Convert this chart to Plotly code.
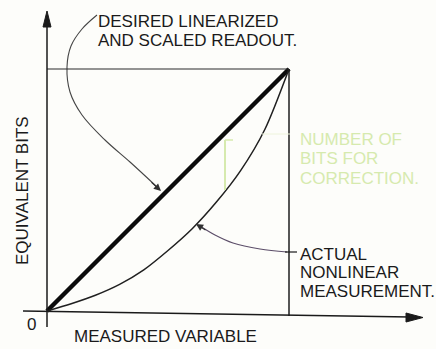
import plotly.graph_objects as go

# Measured variable, normalised to full scale
measured = [0.0, 0.1, 0.2, 0.3, 0.4, 0.5, 0.6, 0.7, 0.8, 0.9, 1.0]
# Desired linearised and scaled readout (equivalent bits, normalised)
desired = [0.0, 0.1, 0.2, 0.3, 0.4, 0.5, 0.6, 0.7, 0.8, 0.9, 1.0]
# Actual nonlinear measurement (equivalent bits, normalised)
actual = [0.0, 0.03, 0.065, 0.11, 0.17, 0.25, 0.34, 0.45, 0.58, 0.75, 1.0]

full_scale = 1.0
x_title = "MEASURED VARIABLE"
y_title = "EQUIVALENT BITS"
origin_label = "0"
desired_label = ["DESIRED LINEARIZED", "AND SCALED READOUT."]
actual_label = ["ACTUAL", "NONLINEAR", "MEASUREMENT."]
correction_label = ["NUMBER OF", "BITS FOR", "CORRECTION."]

W, H = 436, 349
X0, Y0, S = 47, 311, 242  # page position of the origin and pixels per unit


def px(x):
    return (x - X0) / S


def py(y):
    return (Y0 - y) / S


INK = "#1a1a1a"
GREEN = "#d6eaae"
FONT = dict(family="Liberation Sans, Arial, sans-serif", size=17, color=INK)

fig = go.Figure()

# desired straight-line readout
fig.add_trace(go.Scatter(x=measured, y=desired, mode="lines",
                         line=dict(color="#0c0c0c", width=4.5),
                         hoverinfo="skip", showlegend=False))
# actual nonlinear curve
fig.add_trace(go.Scatter(x=measured, y=actual, mode="lines",
                         line=dict(color="#202020", width=1.5, shape="spline", smoothing=0.8),
                         hoverinfo="skip", showlegend=False))


def leader(points, color, width=1.1):
    fig.add_trace(go.Scatter(x=[px(a) for a, _ in points], y=[py(b) for _, b in points],
                             mode="lines", line=dict(color=color, width=width, shape="spline", smoothing=1.0),
                             hoverinfo="skip", showlegend=False))


# leader to the desired line
leader([(97, 15), (82, 29), (71, 46), (67, 67), (70, 92), (82, 115), (105, 140), (130, 162), (156, 186)], "#454545")
# leader to the actual curve
leader([(200, 226), (215, 235), (233, 243), (260, 249), (287, 252)], "#5b4d68")

shapes = []
# full-scale frame
shapes.append(dict(type="line", x0=0, y0=full_scale, x1=full_scale, y1=full_scale,
                   line=dict(color="#2a2a2a", width=1.2)))
shapes.append(dict(type="line", x0=full_scale, y0=full_scale, x1=full_scale, y1=py(316),
                   line=dict(color="#1e1e1e", width=1.5)))
# axes
shapes.append(dict(type="line", x0=0, y0=py(327), x1=0, y1=py(22),
                   line=dict(color=INK, width=1.5)))
shapes.append(dict(type="line", x0=px(23), y0=py(311), x1=px(410), y1=py(317),
                   line=dict(color=INK, width=1.5)))
# arrow heads on the axes
shapes.append(dict(type="path", path=f"M {px(47)},{py(11)} L {px(43)},{py(27)} L {px(51)},{py(27)} Z",
                   fillcolor=INK, line=dict(color=INK, width=1)))
shapes.append(dict(type="path", path=f"M {px(423)},{py(317.5)} L {px(406)},{py(313)} L {px(406)},{py(322)} Z",
                   fillcolor=INK, line=dict(color=INK, width=1)))
# tick where the actual-curve leader meets its label
shapes.append(dict(type="line", x0=px(285), y0=py(252), x1=px(297), y1=py(252),
                   line=dict(color=INK, width=1.2)))
# correction bracket between the two curves
shapes.append(dict(type="line", x0=px(225), y0=py(140), x1=px(225), y1=py(190),
                   line=dict(color=GREEN, width=2)))
shapes.append(dict(type="line", x0=px(225), y0=py(140), x1=px(233), y1=py(140),
                   line=dict(color=GREEN, width=1.5)))
shapes.append(dict(type="line", x0=px(262), y0=py(134), x1=px(290), y1=py(134),
                   line=dict(color="#eef4dc", width=1)))

annotations = []


def text(s, x, y, anchor="left", color=INK, angle=0):
    annotations.append(dict(text=s, x=px(x), y=py(y), xref="x", yref="y", showarrow=False,
                            xanchor=anchor, yanchor="middle", textangle=angle,
                            font=dict(FONT, color=color)))


text(desired_label[0], 96, 21)
text(desired_label[1], 96, 40)
for i, s in enumerate(actual_label):
    text(s, 298, 254 + 18.5 * i)
for i, s in enumerate(correction_label):
    text(s, 298, 139 + 19.5 * i, color=GREEN)
text(x_title, 72, 336)
text(origin_label, 31, 324, anchor="center")
text(y_title, 22, 191, anchor="center", angle=-90)

# arrow heads on the leaders
annotations.append(dict(x=px(161), y=py(191), ax=px(150), ay=py(181), xref="x", yref="y",
                        axref="x", ayref="y", showarrow=True, text="", arrowhead=2,
                        arrowsize=1.3, arrowwidth=1.1, arrowcolor="#303030"))
annotations.append(dict(x=px(196), y=py(224), ax=px(207), ay=py(231), xref="x", yref="y",
                        axref="x", ayref="y", showarrow=True, text="", arrowhead=2,
                        arrowsize=1.3, arrowwidth=1.1, arrowcolor="#303030"))

fig.update_layout(
    width=W, height=H, autosize=False,
    margin=dict(l=0, r=0, t=0, b=0),
    paper_bgcolor="#fdfdfa", plot_bgcolor="#fdfdfa",
    xaxis=dict(range=[px(0), px(W)], visible=False, fixedrange=True),
    yaxis=dict(range=[py(H), py(0)], visible=False, fixedrange=True),
    shapes=shapes, annotations=annotations, showlegend=False,
)

fig.write_html("out.html")
